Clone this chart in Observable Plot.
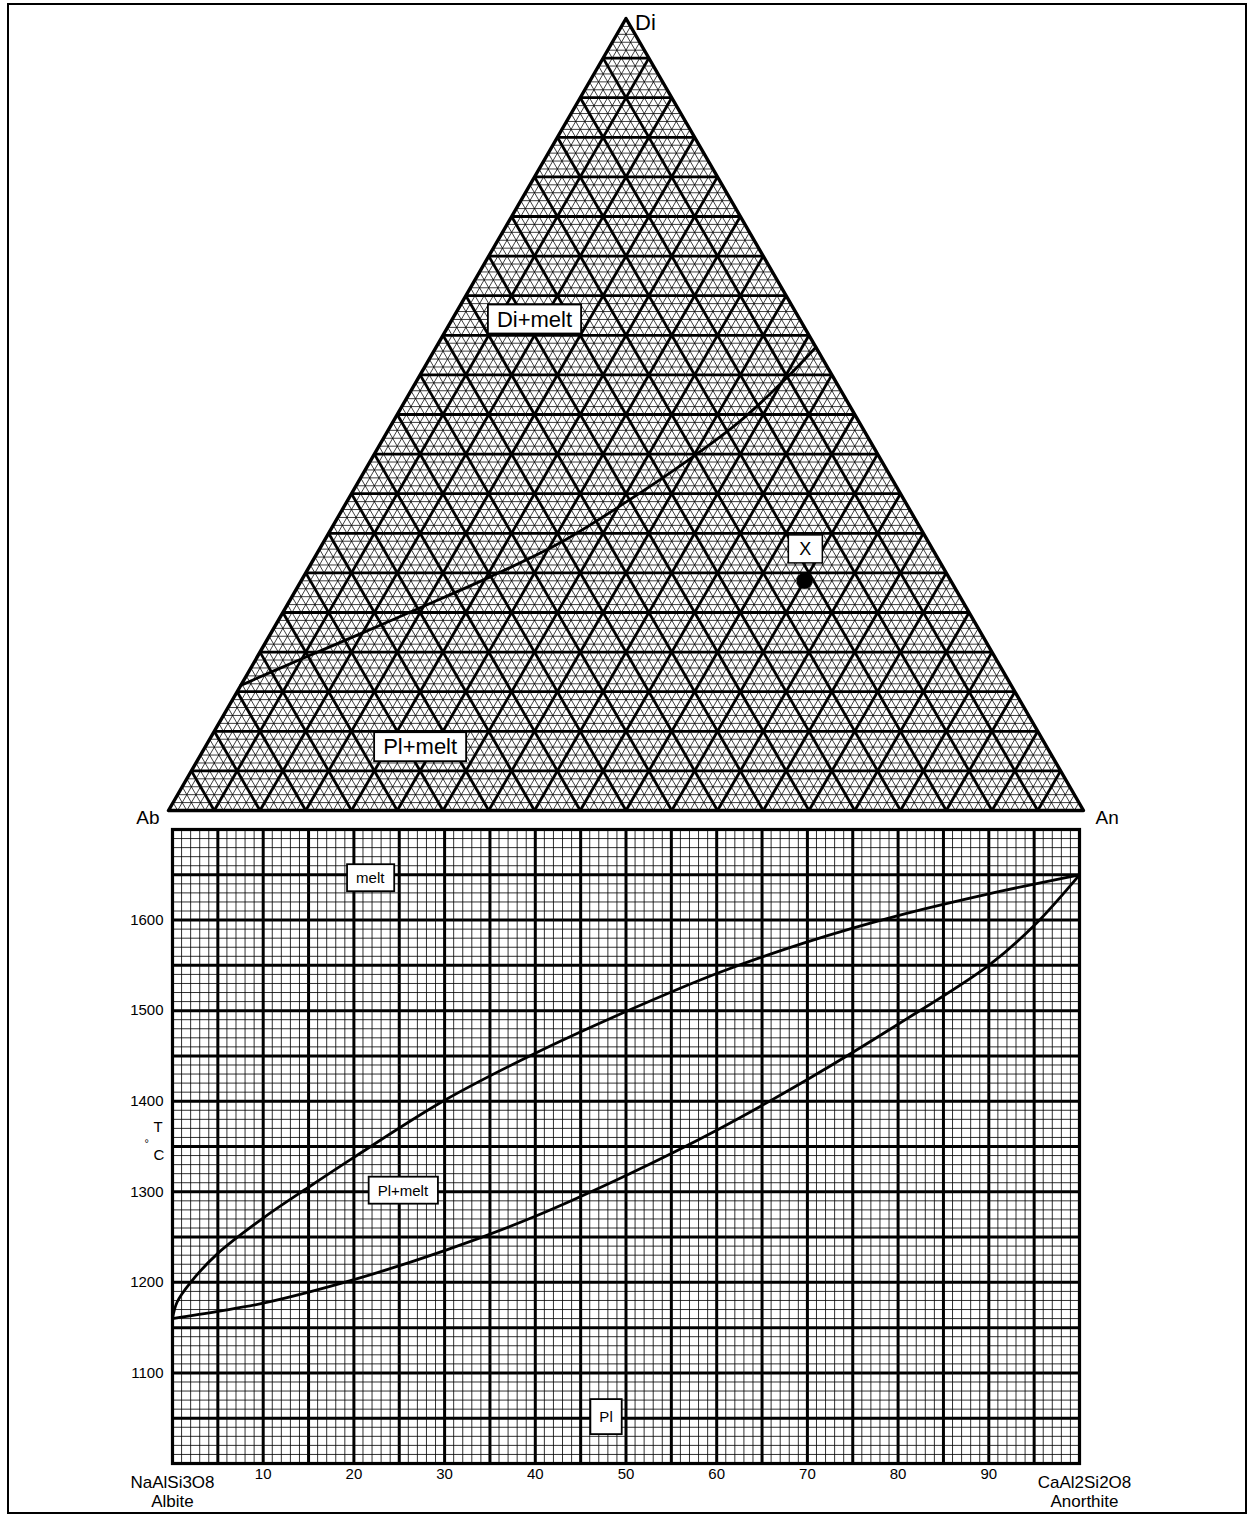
<!DOCTYPE html>
<html><head><meta charset="utf-8">
<script src="https://cdn.jsdelivr.net/npm/d3@7"></script>
<script src="https://cdn.jsdelivr.net/npm/@observablehq/plot@0.6"></script>
<style>
body{margin:0;background:#fff;}
#fig{position:relative;width:1251px;height:1516px;font-family:"Liberation Sans",Arial,sans-serif;background:#fff;}
#frame{position:absolute;left:7px;top:3px;width:1240px;height:1511px;border:2px solid #000;box-sizing:border-box;pointer-events:none}
#tern{position:absolute;left:0;top:0}
#bin{position:absolute;left:0;top:820px}
</style></head><body>
<div id="fig"><div id="tern"></div><div id="bin"></div><div id="frame"></div></div>
<script>
// ---------- DATA ----------
// Ternary Ab–An–Di (percent)
const vertexNames = ["Ab", "An", "Di"];
const ternaryMinorLevels = d3.range(1, 100, 1);
const ternaryMajorLevels = d3.range(5, 100, 5);
// cotectic curve (Di %, An %); Ab = 100 - Di - An
const cotecticDi = [15.8, 19.1, 22.3, 25.6, 29.5, 33.8, 38.9, 44.4, 49.2, 54.5, 58.5];
const cotecticAn = [0.0, 4.9, 9.8, 14.7, 20.4, 25.9, 30.5, 34.8, 37.9, 40.2, 41.5];
// point X
const pointName = ["X"];
const pointDi = [29];
const pointAn = [55];
// field labels in the triangle
const ternLabels = ["Di+melt", "Pl+melt", "X"];
const ternLabelDi = [62, 8, 33];
const ternLabelAn = [9, 23.5, 53.1];

// Binary Ab–An, T (°C)
const liquidusX = [0, 0.5, 2, 5, 10, 15, 20, 30, 40, 50, 60, 70, 80, 90, 100];
const liquidusT = [1160, 1178, 1200, 1232, 1271, 1305, 1338, 1401, 1453, 1499, 1541, 1576, 1605, 1629, 1650];
const solidusX = [0, 5, 10, 20, 30, 40, 50, 60, 70, 80, 90, 95, 100];
const solidusT = [1160, 1168, 1177, 1203, 1235, 1273, 1318, 1368, 1424, 1485, 1550, 1594, 1650];
const xTickLabels = [10, 20, 30, 40, 50, 60, 70, 80, 90];
const yTickLabels = [1100, 1200, 1300, 1400, 1500, 1600];
const binLabels = ["melt", "Pl+melt", "Pl"];
const binLabelX = [21.8, 25.4, 47.8];
const binLabelT = [1646, 1301, 1051];
const endMembers = ["NaAlSi3O8\nAlbite", "CaAl2Si2O8\nAnorthite"];
const endMemberX = [0, 100];

// ---------- helpers ----------
const S3 = Math.sqrt(3) / 2;
const tx = (di, an) => (an + di / 2) / 100;
const ty = (di) => (di * S3) / 100;
function gridLinks(levels) {
  const out = [];
  for (const p of levels) {
    out.push({x1: tx(p, 0), y1: ty(p), x2: tx(p, 100 - p), y2: ty(p)});          // Di = p
    out.push({x1: tx(0, p), y1: 0, x2: tx(100 - p, p), y2: ty(100 - p)});        // An = p
    out.push({x1: tx(0, 100 - p), y1: 0, x2: tx(100 - p, 0), y2: ty(100 - p)});  // Ab = p
  }
  return out;
}
function addBoxes(svg, names, padX, padY, sw) {
  svg.querySelectorAll("text").forEach(t => {
    if (!names.includes(t.textContent)) return;
    const b = t.getBBox();
    const r = document.createElementNS("http://www.w3.org/2000/svg", "rect");
    r.setAttribute("x", b.x - padX);
    r.setAttribute("y", b.y - padY);
    r.setAttribute("width", b.width + 2 * padX);
    r.setAttribute("height", b.height + 2 * padY);
    r.setAttribute("fill", "#fff");
    r.setAttribute("stroke", "#000");
    r.setAttribute("stroke-width", sw);
    const tr = t.getAttribute("transform");
    if (tr) r.setAttribute("transform", tr);
    t.parentNode.insertBefore(r, t);
  });
}
const font = "'Liberation Sans', Arial, Helvetica, sans-serif";

// ---------- ternary plot ----------
const verts = vertexNames.map((n, i) => ({name: n, di: i === 2 ? 100 : 0, an: i === 1 ? 100 : 0}));
const outline = [verts[0], verts[1], verts[2], verts[0]];
const cotectic = cotecticDi.map((d, i) => ({di: d, an: cotecticAn[i]}));
const pts = pointName.map((n, i) => ({name: n, di: pointDi[i], an: pointAn[i]}));
const tLabels = ternLabels.map((n, i) => ({name: n, di: ternLabelDi[i], an: ternLabelAn[i]}));

const tern = Plot.plot({
  width: 1251, height: 820,
  marginLeft: 168, marginRight: 168, marginTop: 18, marginBottom: 10,
  x: {domain: [0, 1], axis: null},
  y: {domain: [0, S3], axis: null},
  style: {fontFamily: font, background: "transparent", overflow: "visible"},
  marks: [
    Plot.link(gridLinks(ternaryMinorLevels), {x1: "x1", y1: "y1", x2: "x2", y2: "y2", stroke: "#000", strokeWidth: 0.85, strokeOpacity: 0.9}),
    Plot.link(gridLinks(ternaryMajorLevels), {x1: "x1", y1: "y1", x2: "x2", y2: "y2", stroke: "#000", strokeWidth: 2.8}),
    Plot.line(outline, {x: d => tx(d.di, d.an), y: d => ty(d.di), stroke: "#000", strokeWidth: 3.4}),
    Plot.line(cotectic, {x: d => tx(d.di, d.an), y: d => ty(d.di), stroke: "#000", strokeWidth: 2.8, curve: "catmull-rom"}),
    Plot.dot(pts, {x: d => tx(d.di, d.an), y: d => ty(d.di), r: 8, fill: "#000"}),
    Plot.text(verts.filter(d => d.name === "Di"), {x: d => tx(d.di, d.an), y: d => ty(d.di), text: "name", fontSize: 22, textAnchor: "start", dx: 9, dy: 4}),
    Plot.text(verts.filter(d => d.name === "Ab"), {x: d => tx(d.di, d.an), y: d => ty(d.di), text: "name", fontSize: 19, textAnchor: "end", dx: -9, dy: 7}),
    Plot.text(verts.filter(d => d.name === "An"), {x: d => tx(d.di, d.an), y: d => ty(d.di), text: "name", fontSize: 19, textAnchor: "start", dx: 12, dy: 7}),
    Plot.text(tLabels.filter(d => d.name !== "X"), {x: d => tx(d.di, d.an), y: d => ty(d.di), text: "name", fontSize: 22}),
    Plot.text(tLabels.filter(d => d.name === "X"), {x: d => tx(d.di, d.an), y: d => ty(d.di), text: "name", fontSize: 18})
  ]
});
document.getElementById("tern").appendChild(tern);
addBoxes(tern, ["Di+melt", "Pl+melt"], 9, 2, 1.8);
addBoxes(tern, ["X"], 11, 4, 1.5);

// ---------- binary plot ----------
const liq = liquidusX.map((x, i) => ({x, t: liquidusT[i]}));
const sol = solidusX.map((x, i) => ({x, t: solidusT[i]}));
const bLabels = binLabels.map((n, i) => ({name: n, x: binLabelX[i], t: binLabelT[i]}));
const ends = endMembers.map((n, i) => ({name: n, x: endMemberX[i]}));

const bin = Plot.plot({
  width: 1251, height: 696,
  marginLeft: 172, marginRight: 172, marginTop: 9, marginBottom: 53,
  x: {domain: [0, 100]},
  y: {domain: [1000, 1700]},
  style: {fontFamily: font, background: "transparent", overflow: "visible"},
  marks: [
    Plot.ruleX(d3.range(1, 100, 1), {stroke: "#000", strokeWidth: 0.9, strokeOpacity: 0.9}),
    Plot.ruleY(d3.range(1010, 1700, 10), {stroke: "#000", strokeWidth: 0.9, strokeOpacity: 0.9}),
    Plot.ruleX(d3.range(5, 100, 5), {stroke: "#000", strokeWidth: 3}),
    Plot.ruleY(d3.range(1050, 1700, 50), {stroke: "#000", strokeWidth: 3}),
    Plot.frame({stroke: "#000", strokeWidth: 3.2}),
    Plot.line(liq, {x: "x", y: "t", stroke: "#000", strokeWidth: 2.8, curve: "catmull-rom"}),
    Plot.line(sol, {x: "x", y: "t", stroke: "#000", strokeWidth: 2.8, curve: "catmull-rom"}),
    Plot.axisX(xTickLabels, {tickSize: 0, tickPadding: 5, fontSize: 15, label: null, tickFormat: d => String(d)}),
    Plot.axisY(yTickLabels, {tickSize: 0, tickPadding: 9, fontSize: 15, label: null, tickFormat: d => String(d)}),
    Plot.text(["T"], {frameAnchor: "left", dx: -19, dy: -19, fontSize: 15}),
    Plot.text(["°"], {frameAnchor: "left", dx: -28, dy: -3, fontSize: 11}),
    Plot.text(["C"], {frameAnchor: "left", dx: -19, dy: 9, fontSize: 15}),
    Plot.text(ends.filter(d => d.x === 0), {x: "x", frameAnchor: "bottom", lineAnchor: "middle", text: "name", dy: 28, dx: 0, fontSize: 17, lineHeight: 1.08}),
    Plot.text(ends.filter(d => d.x === 100), {x: "x", frameAnchor: "bottom", lineAnchor: "middle", text: "name", dy: 28, dx: 5, fontSize: 17, lineHeight: 1.08}),
    Plot.text(bLabels, {x: "x", y: "t", text: "name", fontSize: 15})
  ]
});
document.getElementById("bin").appendChild(bin);
addBoxes(bin, ["melt", "Pl+melt"], 9, 5, 1.8);
addBoxes(bin, ["Pl"], 9, 9, 1.8);
</script>
</body></html>
